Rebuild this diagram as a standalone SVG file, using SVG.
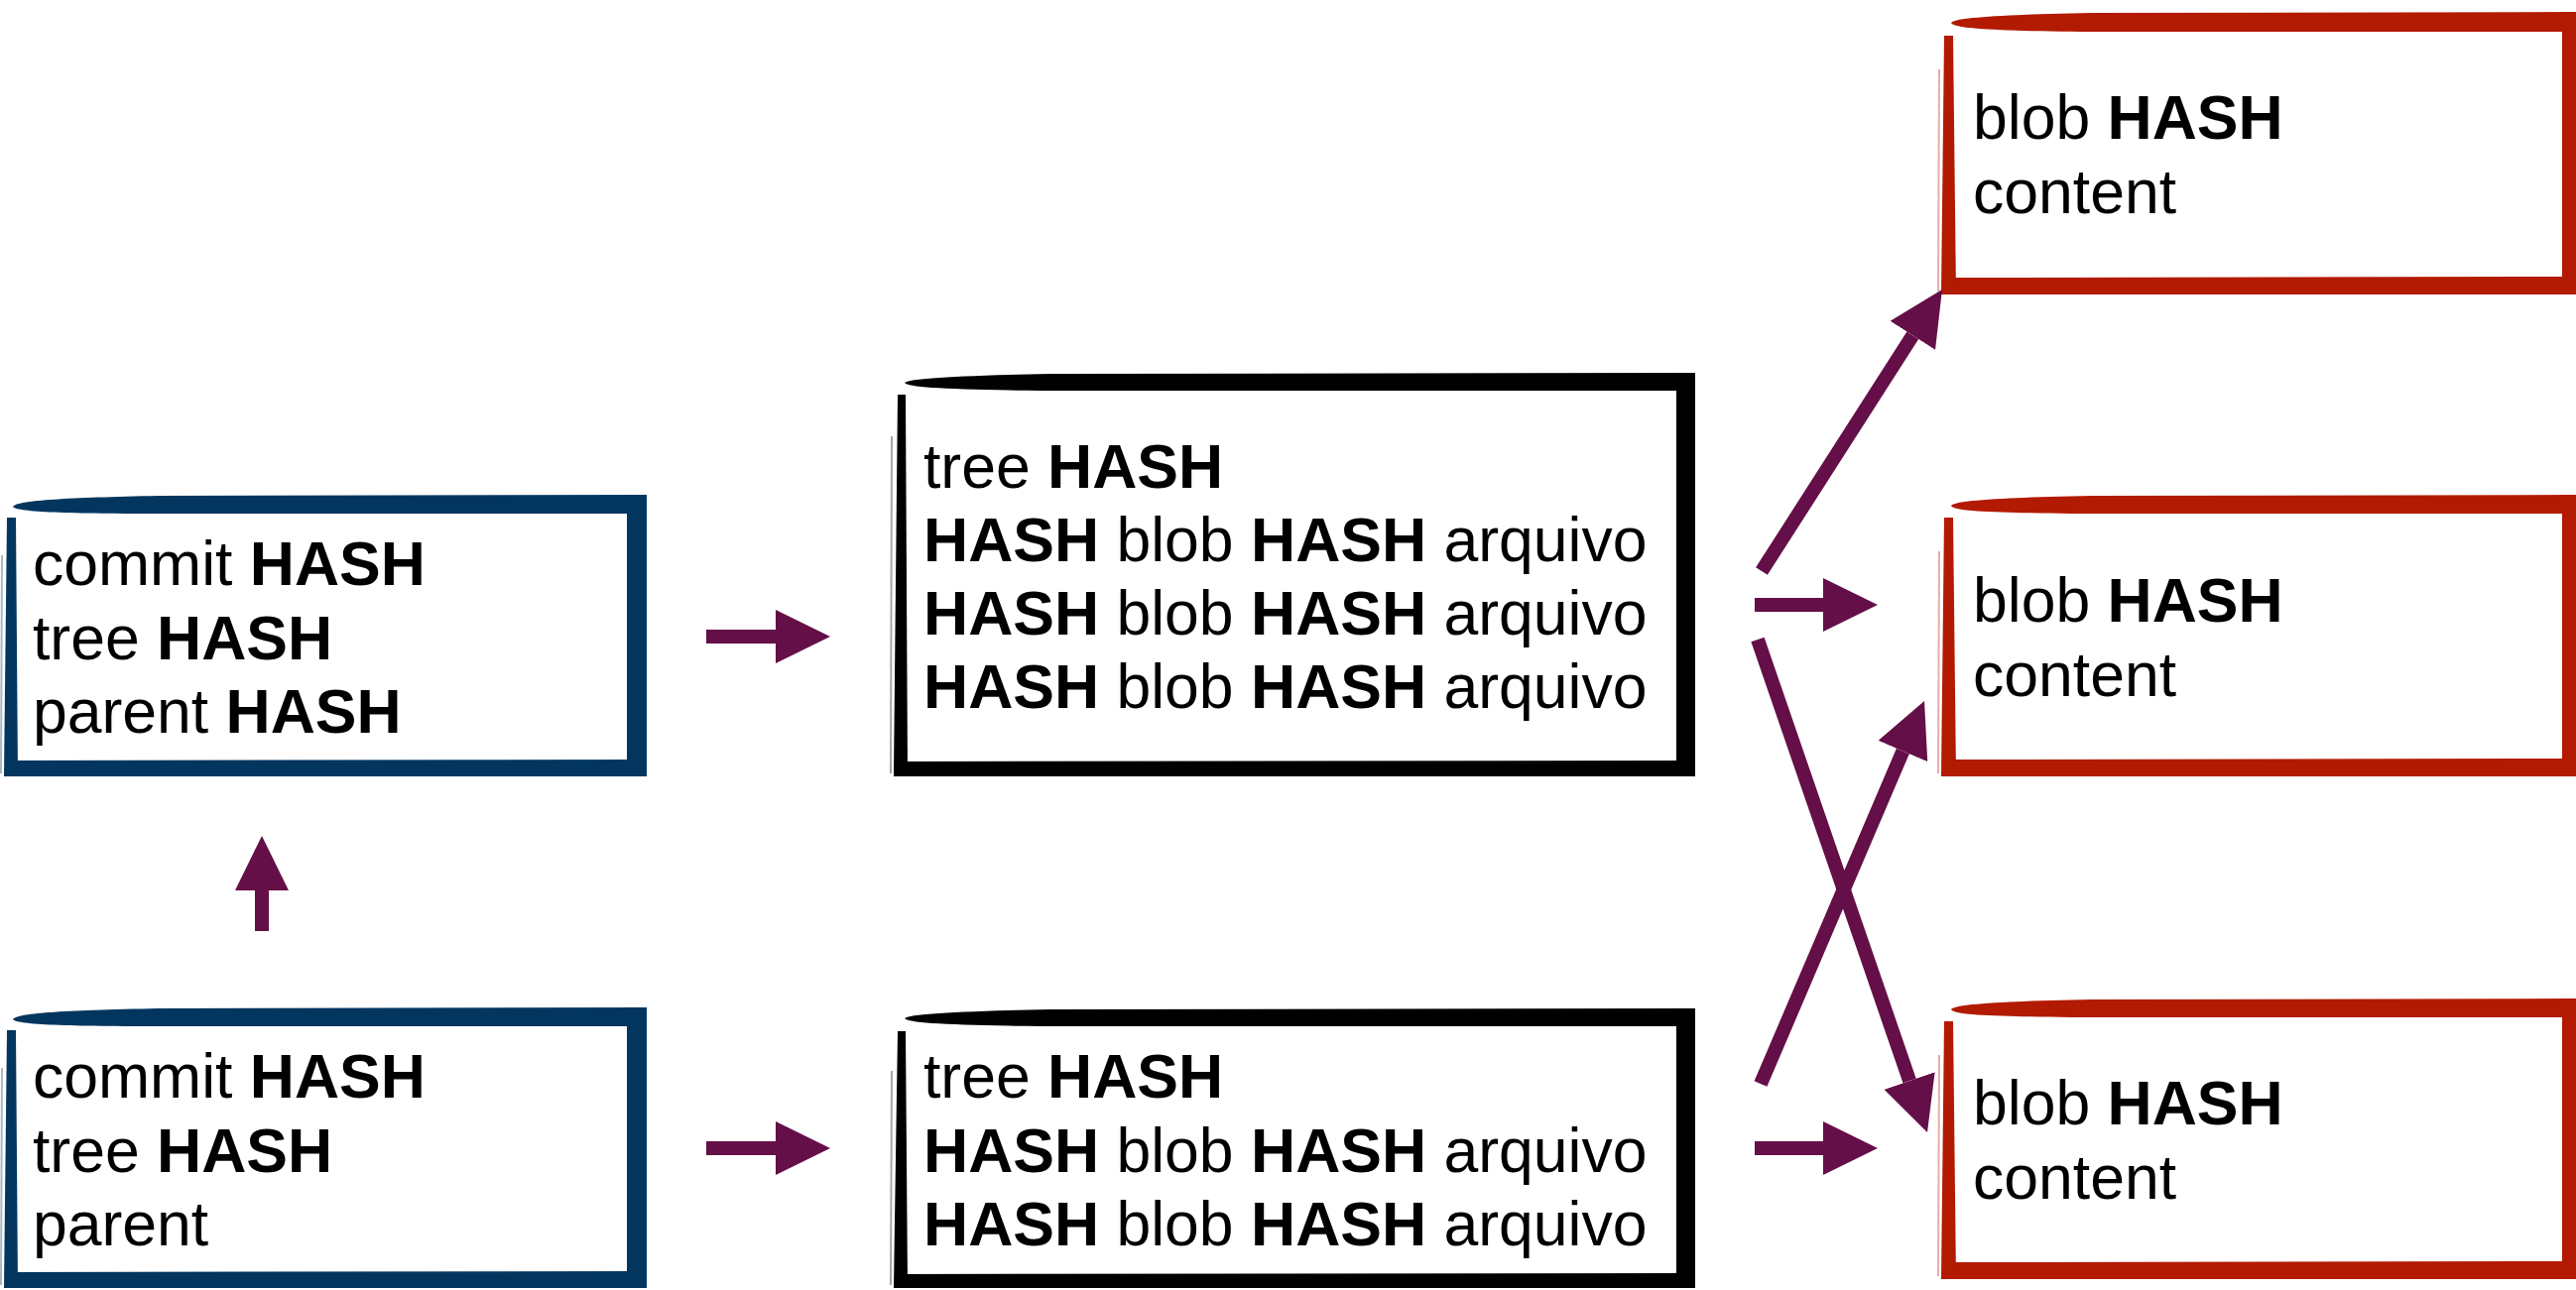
<svg xmlns="http://www.w3.org/2000/svg" width="2597" height="1301" viewBox="0 0 2597 1301">
<style>
.t{font-family:"Liberation Sans",Arial,Helvetica,sans-serif;font-size:62.5px;fill:#000}
.b{font-weight:bold}
.blue{fill:#03365f}
.blk{fill:#000}
.red{fill:#b31a02}
.fr{stroke-width:2;opacity:0.35;fill:none}
.conn line{stroke:#640f48;stroke-width:14;fill:none}
</style>
<defs>
<marker id="ah" markerUnits="userSpaceOnUse" markerWidth="55" markerHeight="54" viewBox="0 0 55 54" refX="0" refY="27" orient="auto">
<path d="M0,0 L55,27 L0,54 Z" fill="#640f48"/>
</marker>
</defs>
<rect width="2597" height="1301" fill="#fff"/>

<g id="commit1" class="blue">
<path d="M652,499 L160,500 C60,502 16,505 13,511 C16,516 60,518 160,518 L652,518 Z"/>
<rect x="632" y="499" width="20" height="284"/>
<path d="M5,767 L652,766 L652,783 L5,783 Z"/>
<path d="M7,522 L16,522 L18,783 L4,783 Z"/>
<path class="fr" stroke="#03365f" d="M2,560 L1,780"/>
<text class="t" x="33" y="590">commit <tspan class="b">HASH</tspan></text>
<text class="t" x="33" y="665">tree <tspan class="b">HASH</tspan></text>
<text class="t" x="33" y="739">parent <tspan class="b">HASH</tspan></text>
</g>

<g id="commit2" class="blue">
<path d="M652,1016 L160,1017 C60,1019 16,1022 13,1028 C16,1033 60,1035 160,1035 L652,1035 Z"/>
<rect x="632" y="1016" width="20" height="283"/>
<path d="M5,1283 L652,1282 L652,1299 L5,1299 Z"/>
<path d="M7,1039 L16,1039 L18,1299 L4,1299 Z"/>
<path class="fr" stroke="#03365f" d="M2,1077 L1,1296"/>
<text class="t" x="33" y="1107">commit <tspan class="b">HASH</tspan></text>
<text class="t" x="33" y="1182">tree <tspan class="b">HASH</tspan></text>
<text class="t" x="33" y="1256">parent</text>
</g>

<g id="tree1" class="blk">
<path d="M1709,376 L1060,377 C960,379 916,382 912,386 C916,391 960,393 1060,394 L1709,394 Z"/>
<rect x="1690" y="376" width="19" height="407"/>
<path d="M903,768 L1709,767 L1709,783 L903,783 Z"/>
<path d="M905,398 L913,398 L915,783 L901,783 Z"/>
<path class="fr" stroke="#000" d="M899,440 L898,780"/>
<text class="t" x="931" y="492">tree <tspan class="b">HASH</tspan></text>
<text class="t" x="931" y="566"><tspan class="b">HASH</tspan> blob <tspan class="b">HASH</tspan> arquivo</text>
<text class="t" x="931" y="640"><tspan class="b">HASH</tspan> blob <tspan class="b">HASH</tspan> arquivo</text>
<text class="t" x="931" y="714"><tspan class="b">HASH</tspan> blob <tspan class="b">HASH</tspan> arquivo</text>
</g>

<g id="tree2" class="blk">
<path d="M1709,1017 L1060,1018 C960,1020 916,1023 912,1027 C916,1032 960,1034 1060,1035 L1709,1035 Z"/>
<rect x="1690" y="1017" width="19" height="282"/>
<path d="M903,1285 L1709,1284 L1709,1299 L903,1299 Z"/>
<path d="M905,1040 L913,1040 L915,1299 L901,1299 Z"/>
<path class="fr" stroke="#000" d="M899,1080 L898,1296"/>
<text class="t" x="931" y="1107">tree <tspan class="b">HASH</tspan></text>
<text class="t" x="931" y="1182"><tspan class="b">HASH</tspan> blob <tspan class="b">HASH</tspan> arquivo</text>
<text class="t" x="931" y="1256"><tspan class="b">HASH</tspan> blob <tspan class="b">HASH</tspan> arquivo</text>
</g>

<g id="blob1" class="red">
<path d="M2604,12 L2110,13 C2010,15 1970,18 1967,23 C1970,29 2010,31 2110,32 L2604,32 Z"/>
<rect x="2583" y="12" width="21" height="285"/>
<path d="M1958,280 L2604,279 L2604,297 L1958,297 Z"/>
<path d="M1960,36 L1969,36 L1972,297 L1957,297 Z"/>
<path class="fr" stroke="#b31a02" d="M1955,70 L1954,294"/>
<text class="t" x="1989" y="140">blob <tspan class="b">HASH</tspan></text>
<text class="t" x="1989" y="215">content</text>
</g>

<g id="blob2" class="red">
<path d="M2604,499 L2110,500 C2010,502 1970,505 1967,510 C1970,516 2010,517 2110,518 L2604,518 Z"/>
<rect x="2583" y="499" width="21" height="284"/>
<path d="M1958,766 L2604,765 L2604,783 L1958,783 Z"/>
<path d="M1960,522 L1969,522 L1972,783 L1957,783 Z"/>
<path class="fr" stroke="#b31a02" d="M1955,556 L1954,780"/>
<text class="t" x="1989" y="627">blob <tspan class="b">HASH</tspan></text>
<text class="t" x="1989" y="702">content</text>
</g>

<g id="blob3" class="red">
<path d="M2604,1007 L2110,1008 C2010,1010 1970,1013 1967,1018 C1970,1024 2010,1025 2110,1026 L2604,1026 Z"/>
<rect x="2583" y="1007" width="21" height="283"/>
<path d="M1958,1273 L2604,1272 L2604,1290 L1958,1290 Z"/>
<path d="M1960,1030 L1969,1030 L1972,1290 L1957,1290 Z"/>
<path class="fr" stroke="#b31a02" d="M1955,1064 L1954,1287"/>
<text class="t" x="1989" y="1134">blob <tspan class="b">HASH</tspan></text>
<text class="t" x="1989" y="1209">content</text>
</g>

<g id="connectors" class="conn">
<line x1="712" y1="642" x2="782" y2="642" marker-end="url(#ah)"/>
<line x1="712" y1="1158" x2="782" y2="1158" marker-end="url(#ah)"/>
<line x1="264" y1="939" x2="264" y2="898" marker-end="url(#ah)"/>
<line x1="1769" y1="610" x2="1838" y2="610" marker-end="url(#ah)"/>
<line x1="1769" y1="1158" x2="1838" y2="1158" marker-end="url(#ah)"/>
<line x1="1776" y1="576" x2="1928.3" y2="338.3" marker-end="url(#ah)"/>
<line x1="1772" y1="645" x2="1925.1" y2="1090" marker-end="url(#ah)"/>
<line x1="1775" y1="1093" x2="1918.4" y2="757.5" marker-end="url(#ah)"/>
</g>
</svg>
